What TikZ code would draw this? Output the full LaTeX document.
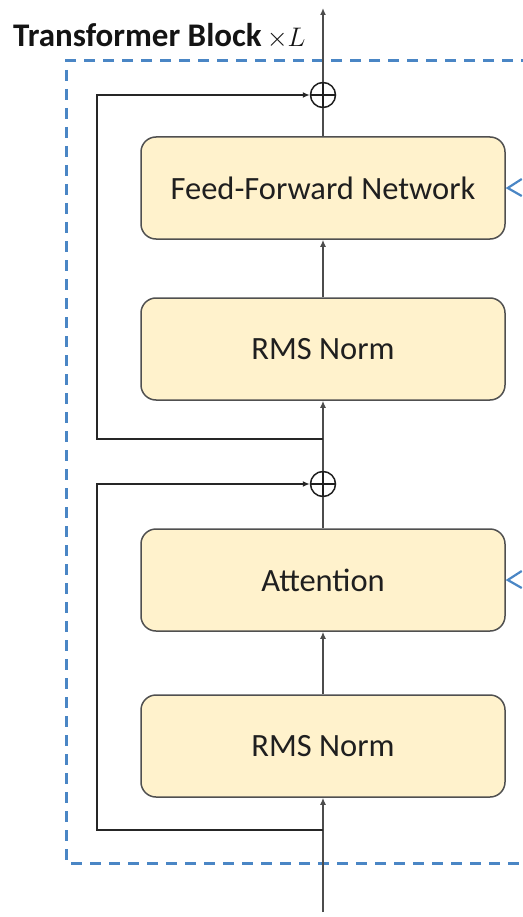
\documentclass[tikz,border=0pt]{standalone}
\usepackage{fontspec}
\setmainfont{Carlito}
\usepackage{graphicx}
\usetikzlibrary{arrows.meta}
\definecolor{boxfill}{HTML}{FFF2CC}
\definecolor{boxline}{HTML}{505050}
\definecolor{blockblue}{HTML}{4A86C5}
\tikzset{
  layer/.style={draw=boxline, line width=1.5pt, fill=boxfill, rounded corners=15pt,
    minimum width=364pt, minimum height=102pt, inner sep=0pt,
    font=\fontsize{32.5}{36}\selectfont, text=black!88},
  sumnode/.style={circle, draw=black!88, line width=1.5pt, minimum size=25pt, inner sep=0pt},
  wire/.style={draw=black!70, line width=1.6pt},
  flow/.style={wire, -{Latex[length=7pt,width=6pt]}},
  skip/.style={draw=black!85, line width=1.5pt, -{Latex[length=7pt,width=6pt]}}
}
\begin{document}
\begin{tikzpicture}[x=1pt,y=-1pt]
\useasboundingbox (0,0) rectangle (522,917);
% dashed block frame, runs off the right edge
\draw[blockblue, line width=3pt, dash pattern=on 11pt off 8pt] (570,61) -- (66,61) -- (66,863) -- (570,863);
\node[anchor=base west, inner sep=0pt, font=\fontsize{33}{38}\selectfont\bfseries, text=black!92] (title) at (13,47) {Transformer Block\hspace{5pt}\scalebox{1.08}{$\times L$}};
% layers
\node[layer] (ffn) at (323,188) {Feed-Forward Network};
\node[layer] (norm2) at (323,349) {RMS Norm};
\node[layer] (attn) at (323,580) {Attention};
\node[layer] (norm1) at (323,746) {RMS Norm};
\node[sumnode] (add2) at (323,95) {};
\node[sumnode] (add1) at (323,484) {};
\draw[black!88, line width=1.5pt] (add2.north) -- (add2.south) (add2.west) -- (add2.east);
\draw[black!88, line width=1.5pt] (add1.north) -- (add1.south) (add1.west) -- (add1.east);
\coordinate (in) at (323,912);
\coordinate (out) at (323,8);
\coordinate (split1) at (323,830);
\coordinate (split2) at (323,439);
\coordinate (res1) at (97,830);
\coordinate (res2) at (97,439);
% main path
\draw[flow] (in) -- (norm1.south);
\draw[flow] (norm1.north) -- (attn.south);
\draw[wire] (attn.north) -- (add1.south);
\draw[flow] (add1.north) -- (norm2.south);
\draw[flow] (norm2.north) -- (ffn.south);
\draw[wire] (ffn.north) -- (add2.south);
\draw[flow] (add2.north) -- (out);
% residuals
\draw[skip] (split1) -- (res1) |- (add1.west);
\draw[skip] (split2) -- (res2) |- (add2.west);
% incoming arrow heads at the right edge
\draw[blockblue, line width=2.2pt] ([shift={(16,-9)}]ffn.east) -- ([shift={(2,0)}]ffn.east) -- ([shift={(16,8)}]ffn.east);
\draw[blockblue, line width=2.2pt] ([shift={(16,-9)}]attn.east) -- ([shift={(2,0)}]attn.east) -- ([shift={(16,8)}]attn.east);
\end{tikzpicture}
\end{document}
